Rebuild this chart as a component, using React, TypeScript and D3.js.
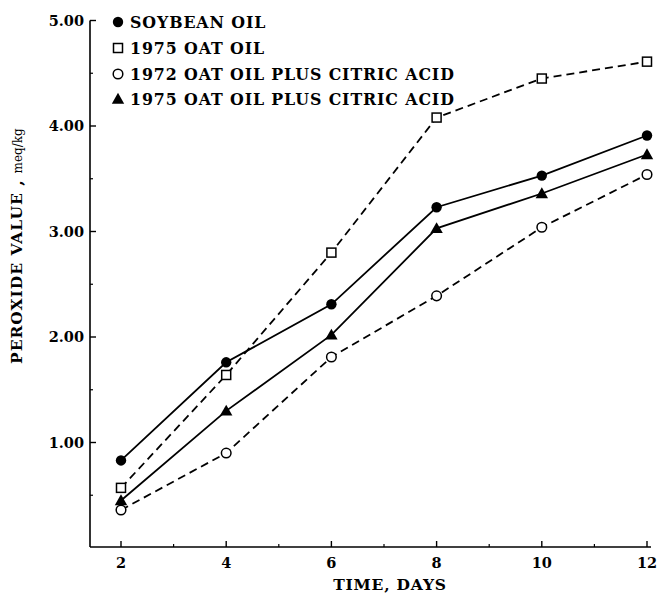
import React from "react";
import * as d3 from "d3";

const days = [2, 4, 6, 8, 10, 12];
const soybeanOil = [0.83, 1.76, 2.31, 3.23, 3.53, 3.91];
const oatOil1975 = [0.57, 1.64, 2.8, 4.08, 4.45, 4.61];
const oatOil1972Citric = [0.36, 0.9, 1.81, 2.39, 3.04, 3.54];
const oatOil1975Citric = [0.45, 1.3, 2.02, 3.03, 3.36, 3.73];

const yTickValues = [1, 2, 3, 4, 5];
const yTickLabels = ["1.00", "2.00", "3.00", "4.00", "5.00"];
const yMinorTicks = [0.5, 1.5, 2.5, 3.5, 4.5];
const xTickValues = [2, 4, 6, 8, 10, 12];
const xMinorTicks = [3, 5, 7, 9, 11];

const seriesNames = [
  "SOYBEAN OIL",
  "1975 OAT OIL",
  "1972 OAT OIL PLUS CITRIC ACID",
  "1975 OAT OIL PLUS CITRIC ACID",
];

type Series = { name: string; values: number[]; marker: string; dashed: boolean };

const series: Series[] = [
  { name: seriesNames[0], values: soybeanOil, marker: "filledCircle", dashed: false },
  { name: seriesNames[1], values: oatOil1975, marker: "openSquare", dashed: true },
  { name: seriesNames[2], values: oatOil1972Citric, marker: "openCircle", dashed: true },
  { name: seriesNames[3], values: oatOil1975Citric, marker: "filledTriangle", dashed: false },
];

const FONT = "'DejaVu Serif', serif";

function Marker({ type, x, y }: { type: string; x: number; y: number }) {
  if (type === "filledCircle") return <circle cx={x} cy={y} r={5.2} fill="#000" />;
  if (type === "openCircle")
    return <circle cx={x} cy={y} r={4.8} fill="#fff" stroke="#000" strokeWidth={1.5} />;
  if (type === "openSquare")
    return <rect x={x - 4.5} y={y - 4.5} width={9} height={9} fill="#fff" stroke="#000" strokeWidth={1.5} />;
  const s = 6.2;
  return (
    <path
      d={`M${x},${y - s} L${x + s},${y + s * 0.75} L${x - s},${y + s * 0.75} Z`}
      fill="#000"
    />
  );
}

export default function App() {
  const width = 662;
  const height = 600;
  const axisX = 90;
  const axisY = 547;
  const x = d3.scaleLinear().domain([2, 12]).range([121, 647]);
  const y = d3.scaleLinear().domain([0, 5]).range([548, 20.5]);
  const line = d3
    .line<number>()
    .x((_, i) => x(days[i]))
    .y((d) => y(d));

  const legendY = [22, 48, 74, 99];

  return (
    <svg
      width={width}
      height={height}
      style={{ position: "absolute", left: 0, top: 0, background: "#fff" }}
    >
      <rect width={width} height={height} fill="#fff" />
      {/* axes */}
      <line x1={axisX} y1={y(5)} x2={axisX} y2={axisY} stroke="#000" strokeWidth={1.6} />
      <line x1={axisX} y1={axisY} x2={x(12) + 4} y2={axisY} stroke="#000" strokeWidth={1.6} />
      {yTickValues.map((v, i) => (
        <g key={"yt" + v}>
          <line x1={axisX} x2={axisX + 6} y1={y(v)} y2={y(v)} stroke="#000" strokeWidth={1.4} />
          <text
            x={axisX - 6}
            y={y(v)}
            dy="0.36em"
            textAnchor="end"
            fontFamily={FONT}
            fontWeight="bold"
            fontSize={14.5}
          >
            {yTickLabels[i]}
          </text>
        </g>
      ))}
      {yMinorTicks.map((v) => (
        <line key={"ym" + v} x1={axisX} x2={axisX + 3} y1={y(v)} y2={y(v)} stroke="#000" strokeWidth={1.2} />
      ))}
      {xTickValues.map((v) => (
        <g key={"xt" + v}>
          <line x1={x(v)} x2={x(v)} y1={axisY} y2={axisY - 6} stroke="#000" strokeWidth={1.4} />
          <text
            x={x(v)}
            y={568}
            textAnchor="middle"
            fontFamily={FONT}
            fontWeight="bold"
            fontSize={14.5}
          >
            {v}
          </text>
        </g>
      ))}
      {xMinorTicks.map((v) => (
        <line key={"xm" + v} x1={x(v)} x2={x(v)} y1={axisY} y2={axisY - 3} stroke="#000" strokeWidth={1.2} />
      ))}
      {/* axis titles */}
      <text
        x={390}
        y={590}
        textAnchor="middle"
        fontFamily={FONT}
        fontWeight="bold"
        fontSize={15.5}
        letterSpacing={0.8}
      >
        TIME, DAYS
      </text>
      <text
        transform="translate(22,364) rotate(-90)"
        fontFamily={FONT}
        fontWeight="bold"
        fontSize={15.5}
        letterSpacing={1}
      >
        PEROXIDE VALUE ,
        <tspan fontSize={12} fontWeight="normal" dx={6} letterSpacing={0}>
          meq/kg
        </tspan>
      </text>
      {/* series */}
      {series.map((s) => (
        <g key={s.name}>
          <path
            d={line(s.values) || ""}
            fill="none"
            stroke="#000"
            strokeWidth={1.8}
            strokeDasharray={s.dashed ? "8,5" : undefined}
          />
          {s.values.map((v, i) => (
            <Marker key={i} type={s.marker} x={x(days[i])} y={y(v)} />
          ))}
        </g>
      ))}
      {/* legend */}
      {series.map((s, i) => (
        <g key={"lg" + s.name}>
          <Marker type={s.marker} x={118} y={legendY[i]} />
          <text
            x={130}
            y={legendY[i]}
            dy="0.36em"
            fontFamily={FONT}
            fontWeight="bold"
            fontSize={15.8}
            letterSpacing={0.9}
          >
            {s.name}
          </text>
        </g>
      ))}
    </svg>
  );
}
